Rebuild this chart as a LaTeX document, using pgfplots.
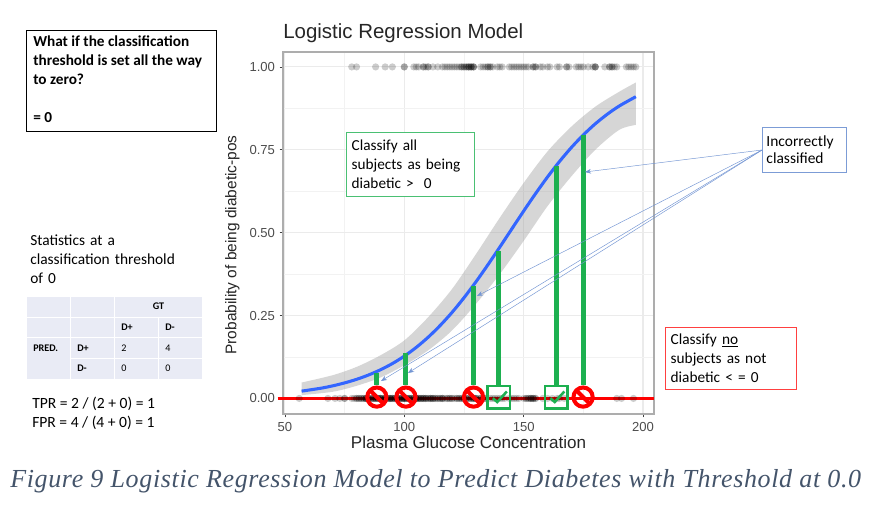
\documentclass[border=0pt]{standalone}
\usepackage{pgfplots}
\pgfplotsset{compat=1.18}
\usepgfplotslibrary{fillbetween}
\usetikzlibrary{arrows.meta}
\usepackage{fontspec}
\setmainfont{Liberation Sans}
\newfontfamily\crl{Carlito}
\newfontfamily\capfont[LetterSpace=2.5]{Liberation Serif}
\definecolor{gbar}{HTML}{1DB050}
\definecolor{cblue}{HTML}{3366FF}
\definecolor{arrowb}{HTML}{4472C4}
\definecolor{capc}{HTML}{44546A}
\definecolor{cellc}{HTML}{E9EBF5}
\pgfdeclareplotmark{nosign}{%
  \pgfsetlinewidth{3pt}\pgfsetstrokecolor{red}%
  \pgfpathcircle{\pgfpointorigin}{7.2pt}\pgfusepathqstroke
  \pgfpathmoveto{\pgfpoint{-5.1pt}{5.1pt}}\pgfpathlineto{\pgfpoint{5.1pt}{-5.1pt}}\pgfusepathqstroke}
\pgfdeclareplotmark{checkbox}{%
  \pgfsetlinewidth{1.9pt}\pgfsetstrokecolor{gbar}%
  \pgfpathrectangle{\pgfpoint{-8.4pt}{-8.4pt}}{\pgfpoint{16.8pt}{16.8pt}}\pgfusepathqstroke
  \pgfpathmoveto{\pgfpoint{-4.5pt}{-0.8pt}}\pgfpathlineto{\pgfpoint{-1.2pt}{-3.7pt}}\pgfpathlineto{\pgfpoint{6pt}{4.2pt}}\pgfusepathqstroke}
\begin{document}
\begin{tikzpicture}[x=0.75pt,y=-0.75pt]
\path (0,0) rectangle (881,520);
\begin{axis}[
  at={(212.25pt,-310.5pt)},anchor=south west,
  scale only axis,width=278.25pt,height=271.5pt,
  xmin=49.2,xmax=204.6,ymin=-0.047,ymax=1.045,
  clip=false,
  axis line style={draw=black!32,line width=1.1pt},
  xtick={50,100,150,200},
  ytick={0,0.25,0.5,0.75,1},
  minor xtick={75,125,175},
  minor ytick={0.125,0.375,0.625,0.875},
  grid=both,
  major grid style={draw=black!8,line width=0.8pt},
  minor grid style={draw=black!5,line width=0.5pt},
  tick align=outside,
  major tick length=2.5pt,minor tick length=0pt,
  tick style={draw=black!75,line width=0.5pt},
  xtick pos=bottom,ytick pos=left,
  yticklabel style={/pgf/number format/.cd,fixed,fixed zerofill,precision=2,assume math mode=true},
  xticklabel style={/pgf/number format/assume math mode=true},
  ticklabel style={font=\fontsize{9.8}{11}\selectfont,text=black!70},
  xlabel={Plasma Glucose Concentration},
  ylabel={Probability of being diabetic-pos},
  xlabel style={font=\fontsize{12.8}{14}\selectfont,text=black!85,at={(axis description cs:0.5,0)},anchor=north,yshift=-13pt},
  ylabel style={font=\fontsize{11.6}{13}\selectfont,text=black!85,at={(axis description cs:0,0.467)},anchor=south,yshift=29pt},
  title={Logistic Regression Model},
  title style={at={(axis description cs:0,1)},anchor=south west,font=\fontsize{15.35}{17}\selectfont,text=black!85,yshift=-2.5pt,inner xsep=0pt},
]
% points at y = 1
\addplot[only marks,mark=*,mark size=2.7pt,mark options={fill=black,draw opacity=0,fill opacity=.2}] coordinates {
(78,1)(80,1)(88,1)(92,1)(95,1)(100,1)(100,1)(104,1)(105,1)(106,1)(108,1)(108,1)(109,1)(110,1)(110,1)(112,1)(114,1)(116,1)(117,1)(118,1)(119,1)(120,1)(121,1)(122,1)(123,1)(124,1)(124,1)(125,1)(125,1)(126,1)(126,1)(127,1)(127,1)(127,1)(128,1)(128,1)(128,1)(129,1)(129,1)(129,1)(132,1)(133,1)(134,1)(135,1)(135,1)(136,1)(136,1)(137,1)(139,1)(140,1)(141,1)(144,1)(145,1)(146,1)(147,1)(148,1)(149,1)(150,1)(151,1)(152,1)(154,1)(154,1)(155,1)(155,1)(157,1)(158,1)(160,1)(161,1)(164,1)(165,1)(168,1)(168,1)(169,1)(172,1)(173,1)(174,1)(175,1)(177,1)(179,1)(180,1)(180,1)(180,1)(184,1)(186,1)(186,1)(187,1)(187,1)(188,1)(189,1)(193,1)(194,1)(195,1)(196,1)(197,1)};
% points at y = 0
\addplot[only marks,mark=*,mark size=2.7pt,mark options={fill=black,draw opacity=0,fill opacity=.2}] coordinates {
(56,0)(68,0)(71,0)(73,0)(75,0)(75,0)(78,0)(79,0)(80,0)(81,0)(81,0)(82,0)(83,0)(83,0)(84,0)(84,0)(85,0)(85,0)(86,0)(87,0)(87,0)(88,0)(88,0)(89,0)(89,0)(90,0)(90,0)(91,0)(92,0)(92,0)(93,0)(94,0)(94,0)(95,0)(95,0)(96,0)(97,0)(97,0)(98,0)(99,0)(99,0)(100,0)(100,0)(101,0)(102,0)(102,0)(103,0)(104,0)(105,0)(105,0)(106,0)(106,0)(107,0)(108,0)(108,0)(109,0)(110,0)(111,0)(112,0)(112,0)(114,0)(115,0)(116,0)(117,0)(118,0)(119,0)(120,0)(121,0)(122,0)(123,0)(124,0)(125,0)(125,0)(126,0)(127,0)(128,0)(129,0)(129,0)(130,0)(131,0)(132,0)(133,0)(134,0)(136,0)(137,0)(138,0)(139,0)(140,0)(141,0)(142,0)(144,0)(145,0)(146,0)(147,0)(148,0)(150,0)(151,0)(152,0)(153,0)(154,0)(154,0)(155,0)(158,0)(160,0)(162,0)(164,0)(165,0)(167,0)(189,0)(191,0)(196,0)
(80,0)(82,0)(84,0)(85,0)(86,0)(88,0)(89,0)(90,0)(91,0)(92,0)(93,0)(94,0)(95,0)(96,0)(97,0)(98,0)(99,0)(100,0)(101,0)(102,0)(103,0)(104,0)(105,0)(106,0)(107,0)(108,0)(109,0)(110,0)(111,0)(112,0)(113,0)(114,0)(115,0)(116,0)(118,0)(120,0)(122,0)(124,0)(126,0)(128,0)(129,0)(130,0)(132,0)(134,0)(151,0)(152,0)(153,0)(154,0)(155,0)
(84,0)(87,0)(90,0)(92,0)(94,0)(96,0)(98,0)(100,0)(101,0)(103,0)(105,0)(107,0)(109,0)(111,0)(113,0)(116,0)(119,0)(123,0)(127,0)(130,0)(153,0)};
% confidence band
\addplot[name path=up,draw=none,smooth,forget plot] coordinates {(57,.048)(70,.07)(80,.095)(90,.13)(100,.175)(110,.245)(120,.33)(130,.435)(140,.545)(150,.65)(160,.745)(170,.82)(180,.88)(190,.925)(197,.953)};
\addplot[name path=lo,draw=none,smooth,forget plot] coordinates {(57,.010)(70,.02)(80,.038)(90,.063)(100,.10)(110,.145)(120,.205)(130,.285)(140,.375)(150,.475)(160,.58)(170,.67)(180,.75)(190,.81)(197,.825)};
\addplot[black!40,opacity=.4,draw=none,forget plot] fill between[of=up and lo];
% fitted curve
\addplot[cblue,line width=2.3pt,smooth] coordinates {(57,.022)(65,.0307)(70,.0379)(75,.0468)(80,.0575)(85,.0706)(90,.0863)(95,.1051)(100,.1275)(105,.1539)(110,.1846)(115,.2198)(120,.2594)(125,.3036)(130,.3516)(135,.4029)(140,.4564)(145,.5109)(150,.5652)(155,.6179)(160,.6680)(165,.7146)(170,.7570)(175,.7949)(180,.8283)(185,.8571)(190,.8819)(197,.9102)};
% green bars
\addplot[gbar,line width=3.8pt] coordinates {(88.5,.04)(88.5,.077)};
\addplot[gbar,line width=3.8pt] coordinates {(100.7,.04)(100.7,.138)};
\addplot[gbar,line width=3.8pt] coordinates {(129,.04)(129,.34)};
\addplot[gbar,line width=3.8pt] coordinates {(139.6,.04)(139.6,.445)};
\addplot[gbar,line width=3.8pt] coordinates {(163.7,.04)(163.7,.70)};
\addplot[gbar,line width=3.8pt] coordinates {(174.9,.04)(174.9,.795)};
% threshold line
\addplot[red,line width=2.2pt] coordinates {(46.9,0)(204.6,0)};
% markers for the six subjects
\addplot[only marks,mark=nosign] coordinates {(88.5,0.004)(100.7,0.004)(129,0.004)(174.9,0.004)};
\addplot[only marks,mark=checkbox] coordinates {(139.6,0.004)(163.7,0.004)};
\end{axis}
% annotation arrows
\begin{scope}[arrowb!75,line width=0.35pt,-{Stealth[length=4.5pt,width=3.5pt]}]
\draw (762,150) -- (585,172);
\draw (762,150) -- (477,296);
\draw (762,150) -- (408,373);
\draw (762,150) -- (381,381);
\end{scope}
% text boxes
\draw[black,line width=0.6pt] (26,30) rectangle (216,131);
\node[anchor=north west,inner sep=0pt,align=left,font=\crl\bfseries\fontsize{11.45}{14.4}\selectfont] at (33,35.3) {What if the classification\\threshold is set all the way\\to zero?\\[14.2pt]= 0};
\node[draw=gbar!80,line width=0.5pt,fill=white,anchor=north west,minimum width=96pt,minimum height=48pt,text width=88pt,inner xsep=4pt,inner ysep=3.7pt,align=left,font=\crl\fontsize{11.45}{14.25}\selectfont] at (346,132) {Classify all\\subjects as being\\diabetic >\ \ 0};
\node[draw=red!75,line width=0.5pt,fill=white,anchor=north west,minimum width=97.5pt,minimum height=46.5pt,text width=90pt,inner xsep=4pt,inner ysep=3.3pt,align=left,font=\crl\fontsize{11.5}{14.25}\selectfont] at (665,327) {Classify \underline{no}\\subjects as not\\diabetic < = 0};
\node[draw=arrowb!70,line width=0.7pt,fill=white,anchor=north west,minimum width=63pt,minimum height=33.5pt,text width=57pt,inner xsep=3pt,inner ysep=3pt,align=left,font=\crl\fontsize{11.6}{13.2}\selectfont] at (762,127) {Incorrectly\\classified};
\node[anchor=north west,inner sep=0pt,text width=150pt,align=left,font=\crl\fontsize{11.55}{14}\selectfont] at (30,235) {Statistics at a\\classification threshold\\of 0};
% confusion table
\fill[cellc] (27,297) rectangle (70,317);
\fill[cellc] (71,297) rectangle (114,317);
\fill[cellc] (115,297) rectangle (202,317);
\fill[cellc] (27,318) rectangle (70,337);
\fill[cellc] (71,318) rectangle (114,337);
\fill[cellc] (115,318) rectangle (158,337);
\fill[cellc] (159,318) rectangle (202,337);
\fill[cellc] (27,338) rectangle (70,379);
\fill[cellc] (71,338) rectangle (114,358);
\fill[cellc] (115,338) rectangle (158,358);
\fill[cellc] (159,338) rectangle (202,358);
\fill[cellc] (71,359) rectangle (114,379);
\fill[cellc] (115,359) rectangle (158,379);
\fill[cellc] (159,359) rectangle (202,379);
\begin{scope}[every node/.style={inner sep=0pt,font=\crl\fontsize{7.6}{8}\selectfont}]
\node[font=\crl\bfseries\fontsize{7.6}{8}\selectfont] at (158.5,306) {GT};
\node[font=\crl\bfseries\fontsize{7.6}{8}\selectfont,anchor=west] at (121,327) {D+};
\node[font=\crl\bfseries\fontsize{7.6}{8}\selectfont,anchor=west] at (165,327) {D-};
\node[font=\crl\bfseries\fontsize{7.6}{8}\selectfont,anchor=west] at (33,348) {PRED.};
\node[font=\crl\bfseries\fontsize{7.6}{8}\selectfont,anchor=west] at (77,348) {D+};
\node[font=\crl\bfseries\fontsize{7.6}{8}\selectfont,anchor=west] at (77,368) {D-};
\node[anchor=west] at (121,348) {2};
\node[anchor=west] at (165,348) {4};
\node[anchor=west] at (121,368) {0};
\node[anchor=west] at (165,368) {0};
\end{scope}
\node[anchor=north west,inner sep=0pt,align=left,font=\crl\fontsize{11.7}{14}\selectfont] at (32,397) {TPR = 2 / (2 + 0) = 1\\FPR = 4 / (4 + 0) = 1};
% caption
\node[anchor=west,inner sep=0pt,text=capc,font=\capfont\itshape\fontsize{19.5}{21}\selectfont] at (10,481) {Figure 9 Logistic Regression Model to Predict Diabetes with Threshold at 0.0};
\end{tikzpicture}
\end{document}
